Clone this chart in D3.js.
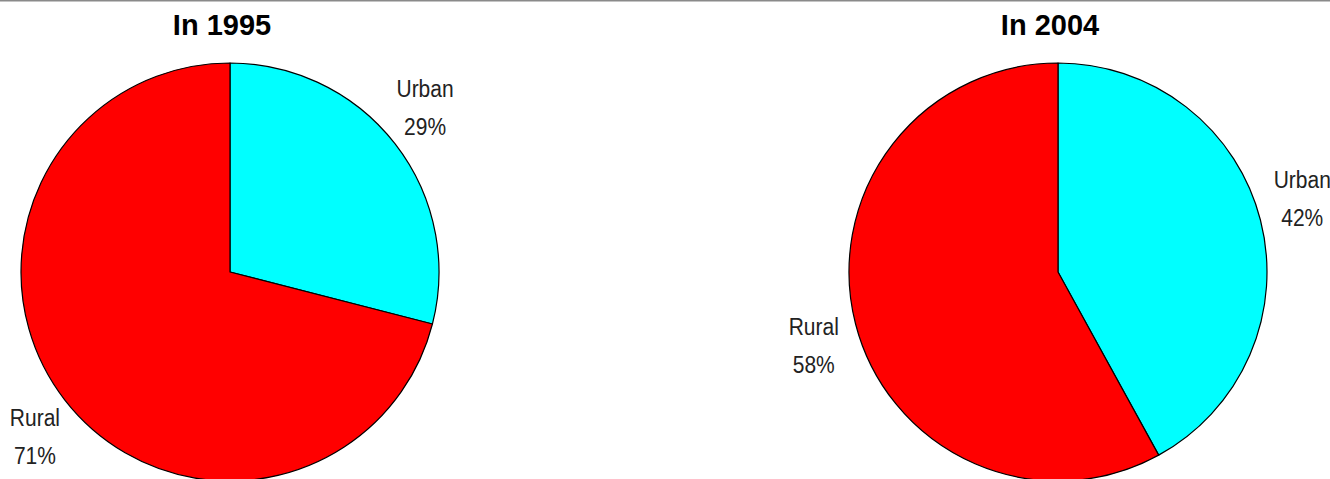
<!DOCTYPE html>
<html>
<head>
<meta charset="utf-8">
<script src="https://cdn.jsdelivr.net/npm/d3@7"></script>
<style>
html,body{margin:0;padding:0;background:#fff;overflow:hidden;}
svg{display:block;}
</style>
</head>
<body>
<svg id="chart" width="1330" height="479"></svg>
<script>
const titles = ["In 1995", "In 2004"];
const categories = ["Urban", "Rural"];
const urbanValues = [29, 42];
const ruralValues = [71, 58];
const colors = ["#00ffff", "#ff0000"];

const W = 1330, H = 479;
const svg = d3.select("#chart");

svg.append("rect").attr("x", 0).attr("y", 0).attr("width", W).attr("height", 1.5).attr("fill", "#8a8a8a");

const centersX = d3.scalePoint().domain(titles).range([230, 1058]);
const cy = 272, r = 209, labelR = 255;
const color = d3.scaleOrdinal().domain(categories).range(colors);

const pie = d3.pie().sort(null).value(d => d.value);
const arc = d3.arc().innerRadius(0).outerRadius(r);
const labelArc = d3.arc().innerRadius(labelR).outerRadius(labelR);
const angleShift = 2.3 * Math.PI / 180;

titles.forEach((t, i) => {
  const cx = centersX(t);
  const data = categories.map((c, j) => ({ name: c, value: j === 0 ? urbanValues[i] : ruralValues[i] }));
  const g = svg.append("g").attr("transform", `translate(${cx},${cy})`);
  const arcs = pie(data);
  g.selectAll("path").data(arcs).enter().append("path")
    .attr("d", arc)
    .attr("fill", d => color(d.data.name))
    .attr("stroke", "#000")
    .attr("stroke-width", 1.2)
    .attr("stroke-linejoin", "round");

  arcs.forEach(d => {
    const mid = (d.startAngle + d.endAngle) / 2 - angleShift;
    const [lx, ly] = labelArc.centroid({ startAngle: mid, endAngle: mid });
    const sy = 1.12;
    const txt = g.append("text")
      .attr("transform", `translate(${lx},${ly}) scale(1,${sy})`)
      .attr("text-anchor", "middle")
      .attr("font-family", "Liberation Sans, Arial, sans-serif")
      .attr("font-size", 21)
      .attr("fill", "#222");
    txt.append("tspan").attr("x", 0).attr("y", (-19 + 8.4) / sy).text(d.data.name);
    txt.append("tspan").attr("x", 0).attr("y", (19 + 8.4) / sy).text(d.data.value + "%");
  });

  svg.append("text")
    .attr("x", cx - 8)
    .attr("y", 35)
    .attr("text-anchor", "middle")
    .attr("font-family", "Liberation Sans, Arial, sans-serif")
    .attr("font-weight", "bold")
    .attr("font-size", 29)
    .attr("fill", "#000")
    .text(t);
});
</script>
</body>
</html>
